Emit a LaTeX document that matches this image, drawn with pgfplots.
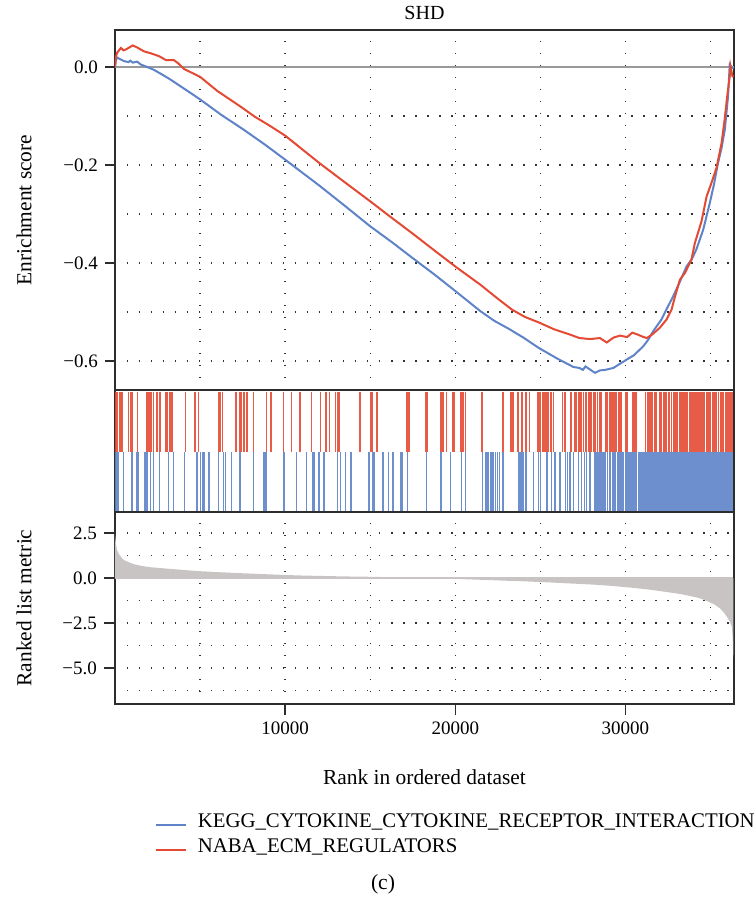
\documentclass[border=0pt]{standalone}
\usepackage{pgfplots}
\pgfplotsset{compat=1.18}
\usepackage{fontspec}
\setmainfont{Liberation Serif}
\definecolor{esred}{RGB}{228,74,51}
\definecolor{esblue}{RGB}{94,131,200}
\definecolor{metricgray}{RGB}{200,196,196}
\definecolor{framecol}{RGB}{45,45,45}
\pgfplotsset{
  gridstyle/.style={black!80, line width=0.7pt, dash pattern=on 0.75pt off 5.25pt},
  base/.style={scale only axis, width=309.5pt, xmin=0, xmax=36380,
    axis line style={framecol, line width=0.9pt},
    tick style={framecol, line width=0.7pt},
    tick align=outside, tick pos=left,
    major tick length=5pt, minor tick length=0pt,
    tick label style={font=\fontsize{9.5}{11}\selectfont},
    label style={font=\fontsize{10.7}{12}\selectfont},
    major grid style={gridstyle}, minor grid style={gridstyle},
    scaled x ticks=false, scaled y ticks=false,
  },
}
\begin{document}
\begin{tikzpicture}
\useasboundingbox (-57.5pt,15pt) rectangle (320pt,-435pt);
% ---------------- Enrichment score panel
\begin{axis}[base, at={(0,0)}, anchor=north west, height=180pt,
  ymin=-0.659, ymax=0.0755,
  ytick={-0.6,-0.4,-0.2,0}, yticklabels={−0.6,−0.4,−0.2,0.0},
  minor ytick={-0.5,-0.3,-0.1},
  xtick={5000,10000,15000,20000,25000,30000,35000}, xticklabels={},
  xmajorticks=false,
  grid=both,
  ylabel={Enrichment score},
  ylabel style={at={(axis description cs:-0.147,0.5)}, anchor=center},
  title={SHD},
  every axis title/.style={at={(axis description cs:0.5,1.047)}, anchor=center, font=\fontsize{10}{12}\selectfont},
  legend style={at={(axis description cs:0.0646,-1.172)}, anchor=north west, draw=none, fill=none,
    inner sep=0pt, font=\fontsize{10.4}{12}\selectfont, row sep=0pt, column sep=5.5pt,
    nodes={inner sep=0pt, text height=7.5pt, text depth=5pt, anchor=west}},
  legend cell align=left,
  legend image code/.code={\draw[#1, line width=0.7pt] (0pt,0pt) -- (15pt,0pt);},
]
\addplot[black!40, line width=0.8pt, forget plot] coordinates {(0,0) (36380,0)};
\addplot[esblue, line width=1pt] coordinates {
(0,0) (60,0.015) (150,0.019) (300,0.016) (530,0.012) (800,0.010) (900,0.013) (1040,0.009) (1300,0.011) (1520,0.005)
(1900,0.000) (2300,-0.006) (2800,-0.016) (3280,-0.026) (4100,-0.045) (5000,-0.066) (6220,-0.097) (7570,-0.128)
(8800,-0.158) (10000,-0.189) (12050,-0.243) (13500,-0.283) (15000,-0.325) (16300,-0.358) (17500,-0.390)
(18800,-0.424) (20000,-0.457) (21470,-0.498) (22300,-0.518) (23140,-0.534) (24000,-0.552) (24900,-0.573)
(26000,-0.595) (26940,-0.612) (27300,-0.614) (27500,-0.618) (27650,-0.611) (28210,-0.624) (28500,-0.619)
(28800,-0.618) (29290,-0.614) (29700,-0.605) (30070,-0.597) (30500,-0.588) (31040,-0.570) (31350,-0.556)
(31630,-0.539) (32120,-0.515) (32450,-0.492) (32800,-0.468) (33200,-0.438) (33590,-0.407) (33900,-0.392)
(34170,-0.372) (34570,-0.332) (34960,-0.277) (35200,-0.240) (35440,-0.196) (35650,-0.165) (35840,-0.128)
(36030,-0.060) (36130,0.005) (36250,0.000) (36350,-0.003)};
\addlegendentry{KEGG\_CYTOKINE\_CYTOKINE\_RECEPTOR\_INTERACTION}
\addplot[esred, line width=1pt] coordinates {
(0,0) (50,0.020) (120,0.029) (350,0.039) (500,0.034) (650,0.036) (1040,0.044) (1300,0.040) (1700,0.032)
(2100,0.028) (2600,0.022) (3000,0.014) (3460,0.014) (3700,0.008) (4060,-0.004) (5000,-0.020) (6020,-0.049)
(7390,-0.081) (8200,-0.101) (9150,-0.121) (10000,-0.140) (12050,-0.197) (13500,-0.235) (15000,-0.274)
(16200,-0.306) (17500,-0.340) (18800,-0.375) (20000,-0.407) (21470,-0.444) (22400,-0.470) (23330,-0.495)
(24100,-0.510) (24900,-0.521) (25800,-0.535) (26750,-0.546) (27300,-0.553) (27920,-0.555) (28500,-0.553)
(28900,-0.562) (29300,-0.552) (29680,-0.548) (30100,-0.551) (30400,-0.542) (30660,-0.545) (31000,-0.550)
(31250,-0.553) (31600,-0.545) (32020,-0.532) (32420,-0.515) (32710,-0.495) (32900,-0.470) (33200,-0.434)
(33500,-0.420) (33780,-0.400) (33880,-0.393) (34080,-0.359) (34470,-0.315) (34770,-0.264) (35060,-0.236)
(35350,-0.206) (35650,-0.155) (35840,-0.104) (35980,-0.060) (36130,-0.019) (36170,0.002) (36290,-0.019)
(36350,-0.020)};
\addlegendentry{NABA\_ECM\_REGULATORS}
\end{axis}
% ---------------- Barcode panel (frame + blue hits)
\begin{axis}[base, at={(0,-180pt)}, anchor=north west, height=61pt,
  ymin=0, ymax=2.033, ticks=none]
\addplot[esblue, ycomb, line width=0.7pt, opacity=0.9] coordinates {
(60,1) (120,1) (200,1) (510,1) (1000,1) (1270,1) (1330,1) (1390,1) (1720,1) (1820,1) (1920,1) (2070,1) (2250,1)
(2600,1) (3130,1) (3440,1) (4070,1) (4810,1) (5040,1) (5140,1) (5240,1) (5530,1) (6080,1) (6380,1) (6510,1)
(6850,1) (7300,1) (7390,1) (8130,1) (8760,1) (8840,1) (8920,1) (9930,1) (10660,1) (11240,1) (11600,1) (11690,1)
(11990,1) (12280,1) (13060,1) (13260,1) (13550,1) (13880,1) (14920,1) (15170,1) (15250,1) (15760,1) (16090,1)
(16330,1) (16780,1) (16870,1) (17200,1) (18300,1) (19160,1) (19710,1) (20350,1) (20590,1) (21600,1) (21760,1)
(21860,1) (21960,1) (22090,1) (22210,1) (22350,1) (22480,1) (22600,1) (22800,1) (23750,1) (23810,1) (23910,1)
(24010,1) (24110,1) (24200,1) (24600,1) (24890,1) (24990,1) (25380,1) (25670,1) (25870,1) (26160,1) (26460,1)
(26590,1) (26750,1) (26940,1) (27240,1) (27430,1) (27590,1) (27720,1) (27920,1)
(28170,1) (28260,1) (28350,1) (28450,1) (28560,1) (28640,1) (28750,1) (28830,1) (28940,1) (29050,1) (29120,1)
(29230,1) (29330,1) (29420,1) (29530,1) (29610,1) (29720,1) (29800,1) (29900,1) (30010,1) (30090,1) (30200,1)
(30290,1) (30380,1) (30480,1) (30560,1) (30650,1)
(30750,1) (30820,1) (30900,1) (30980,1) (31050,1) (31130,1) (31200,1) (31280,1) (31350,1) (31430,1) (31500,1)
(31580,1) (31650,1) (31730,1) (31800,1) (31880,1) (31950,1) (32030,1) (32100,1) (32180,1) (32250,1) (32330,1)
(32400,1) (32480,1) (32550,1) (32630,1) (32700,1) (32780,1) (32850,1) (32930,1) (33000,1) (33080,1) (33150,1)
(33230,1) (33300,1) (33380,1) (33450,1) (33530,1) (33600,1) (33680,1) (33750,1) (33830,1) (33900,1) (33980,1)
(34050,1) (34130,1) (34200,1) (34280,1) (34350,1) (34430,1) (34500,1) (34580,1) (34650,1) (34730,1) (34800,1)
(34880,1) (34950,1) (35030,1) (35100,1) (35180,1) (35250,1) (35330,1) (35400,1) (35480,1) (35550,1) (35630,1)
(35700,1) (35780,1) (35850,1) (35930,1) (36000,1) (36080,1) (36150,1) (36230,1) (36300,1)};
\end{axis}
% ---------------- Barcode panel (red hits)
\begin{axis}[base, at={(0,-181pt)}, anchor=north west, height=30pt,
  ymin=0, ymax=1, hide axis]
\addplot[esred, ycomb, line width=0.7pt, opacity=0.9] coordinates {
(60,1) (160,1) (250,1) (350,1) (450,1) (780,1) (900,1) (1000,1) (1330,1) (1860,1) (1920,1) (2010,1) (2110,1)
(2270,1) (2460,1) (2640,1) (2990,1) (3090,1) (3190,1) (3280,1) (3380,1) (4160,1) (4710,1) (4910,1) (6080,1)
(6160,1) (6320,1) (7100,1) (7330,1) (7390,1) (7450,1) (7590,1) (7720,1) (7780,1) (8130,1) (8900,1) (9170,1)
(9890,1) (10360,1) (10870,1) (11540,1) (12080,1) (12410,1) (12610,1) (12960,1) (13060,1) (13160,1) (14390,1)
(15010,1) (15110,1) (15400,1) (17170,1) (17260,1) (17320,1) (18280,1) (18380,1) (19120,1) (19220,1) (19270,1)
(19470,1) (19860,1) (19960,1) (20330,1) (20450,1) (20590,1) (21560,1) (22800,1) (23270,1) (23360,1) (23420,1)
(23680,1) (23910,1) (24150,1) (24360,1) (24830,1) (24930,1) (25020,1) (25120,1) (25200,1) (25280,1) (25380,1)
(25480,1) (25580,1) (25670,1) (25770,1) (26310,1) (26450,1) (26790,1) (27040,1) (27140,1) (27230,1) (27330,1)
(27430,1) (27530,1) (27670,1) (27820,1) (27920,1) (28020,1) (28120,1) (28220,1) (28350,1) (28500,1) (28600,1)
(28860,1) (28960,1) (29060,1) (29160,1) (29260,1) (29380,1) (29480,1) (29580,1) (29680,1) (29770,1) (30010,1)
(30100,1) (30400,1) (30500,1) (30600,1) (30660,1) (31180,1) (31280,1) (31340,1) (31440,1) (31570,1) (31730,1)
(31830,1) (32020,1) (32120,1) (32220,1) (32320,1) (32420,1) (32570,1) (32710,1) (32860,1) (32960,1) (33060,1)
(33160,1) (33260,1) (33360,1) (33410,1) (33450,1) (33550,1) (33650,1) (33780,1) (33820,1) (33920,1) (34020,1)
(34120,1) (34170,1) (34270,1) (34370,1) (34470,1) (34560,1) (34660,1) (34760,1) (34860,1) (34960,1) (35010,1)
(35110,1) (35210,1) (35310,1) (35350,1) (35480,1) (35580,1) (35680,1) (35780,1) (35880,1) (35980,1) (36080,1)
(36180,1) (36230,1) (36300,1)};
\end{axis}
% ---------------- Ranked list metric panel
\begin{axis}[base, at={(0,-241pt)}, anchor=north west, height=96pt,
  ymin=-7.0, ymax=3.67,
  ytick={-5,-2.5,0,2.5}, yticklabels={−5.0,−2.5,0.0,2.5},
  minor ytick={-6.25,-3.75,-1.25,1.25},
  xtick={10000,20000,30000}, xticklabels={10000,20000,30000},
  minor xtick={5000,15000,25000,35000},
  major tick length=5.5pt,
  grid=both,
  ylabel={Ranked list metric},
  ylabel style={at={(axis description cs:-0.147,0.5)}, anchor=center},
  xlabel={Rank in ordered dataset},
  xlabel style={at={(axis description cs:0.5,-0.38)}, anchor=center},
]
\addplot[fill=metricgray, draw=none] coordinates {
(0,0) (0,2.45) (60,1.9) (120,1.55) (250,1.3) (400,1.12) (530,1.0) (800,0.88) (1100,0.77) (1600,0.67)
(2100,0.6) (3100,0.52) (4000,0.45) (5000,0.38) (6200,0.32) (7400,0.27) (8700,0.22) (10000,0.17) (11000,0.14)
(12000,0.12) (13500,0.09) (15000,0.07) (16200,0.05) (17400,0.02) (18500,0.0) (19500,-0.03) (20400,-0.06)
(21300,-0.09) (22200,-0.12) (23000,-0.15) (24000,-0.18) (24950,-0.22) (25700,-0.25) (26500,-0.29)
(27400,-0.33) (28200,-0.37) (29100,-0.43) (29950,-0.5) (30500,-0.55) (31000,-0.6) (31700,-0.68)
(32300,-0.76) (32800,-0.83) (33300,-0.9) (33800,-1.0) (34300,-1.1) (34800,-1.28) (35250,-1.48)
(35600,-1.72) (35800,-1.94) (36000,-2.2) (36150,-2.45) (36250,-2.7) (36300,-3.3) (36330,-4.2)
(36350,-4.4) (36350,0)} \closedcycle;
\addplot[metricgray, line width=1.3pt] coordinates {(0,0) (36350,0)};
\end{axis}
\node[font=\fontsize{10.8}{12}\selectfont] at (134pt,-427pt) {(c)};
\end{tikzpicture}
\end{document}
